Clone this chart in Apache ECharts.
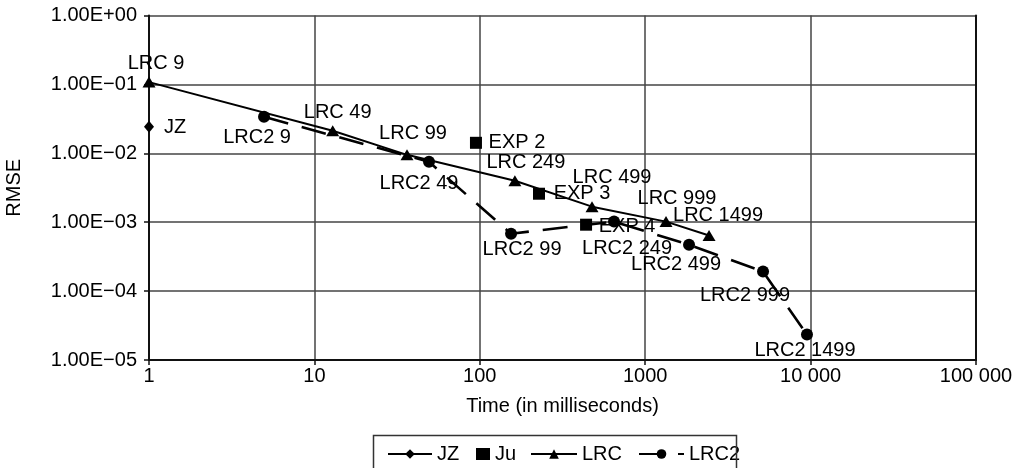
<!DOCTYPE html>
<html>
<head>
<meta charset="utf-8">
<script src="https://cdn.jsdelivr.net/npm/echarts@6/dist/echarts.min.js"></script>
<style>
  html, body { margin: 0; padding: 0; background: #fff; }
  #chart { width: 1017px; height: 468px; }
</style>
</head>
<body>
<div id="chart"></div>
<script>
// RMSE against run time (ms) for each method
const jzTime = [1];
const jzRmse = [0.0242];
const jzLabels = ['JZ'];

const juTime = [94.8, 228, 439];
const juRmse = [0.0142, 0.00259, 0.00092];
const juLabels = ['EXP 2', 'EXP 3', 'EXP 4'];

const lrcTime = [1, 12.9, 36.3, 163, 477, 1336, 2432];
const lrcRmse = [0.108, 0.0212, 0.0095, 0.0040, 0.00168, 0.00102, 0.00064];
const lrcLabels = ['LRC 9', 'LRC 49', 'LRC 99', 'LRC 249', 'LRC 499', 'LRC 999', 'LRC 1499'];

const lrc2Time = [4.96, 49.3, 154.5, 648, 1841, 5157, 9510];
const lrc2Rmse = [0.0338, 0.00753, 0.00068, 0.00102, 0.00047, 0.000192, 0.0000234];
const lrc2Labels = ['LRC2 9', 'LRC2 49', 'LRC2 99', 'LRC2 249', 'LRC2 499', 'LRC2 999', 'LRC2 1499'];

const xTickLabels = ['1', '10', '100', '1000', '10\u00a0000', '100\u00a0000'];
const yTickLabels = ['1.00E\u221205', '1.00E\u221204', '1.00E\u221203', '1.00E\u221202', '1.00E\u221201', '1.00E+00'];

// label placement (pixel offsets from each marker's centre)
const jzOffsets = [[26, 1]];
const juOffsets = [[41, 0], [43, 0], [41, 2]];
const lrcOffsets = [[7, -19], [5, -18], [6, -21], [11, -18], [20, -29], [11, -23], [9, -20]];
const lrc2Offsets = [[-7, 21], [-10, 22], [11, 16], [13, 27], [-13, 20], [-18, 24], [-2, 16]];

const FONT = 'Liberation Sans, Arial, Helvetica, sans-serif';
const FS = 20;

function points(xs, ys, names, offsets) {
  return xs.map((x, i) => ({
    value: [x, ys[i]],
    name: names[i],
    label: { offset: offsets[i] }
  }));
}

const pointLabel = {
  show: true,
  position: 'inside',
  formatter: p => p.name,
  color: '#000',
  fontFamily: FONT,
  fontSize: FS
};

const chart = echarts.init(document.getElementById('chart'), null, { renderer: 'canvas' });

const logExp = v => Math.round(Math.log10(v));

const legendBase = {
  top: 444,
  itemHeight: 12,
  itemGap: 0,
  padding: 0,
  textStyle: { color: '#000', fontFamily: FONT, fontSize: FS, padding: [0, 0, 0, 0] },
  selectedMode: false
};

chart.setOption({
  animation: false,
  backgroundColor: '#fff',
  grid: { left: 149, right: 41, top: 15.5, bottom: 108, containLabel: false, outerBoundsMode: 'none' },
  xAxis: {
    type: 'log',
    logBase: 10,
    min: 1,
    max: 100000,
    name: 'Time (in milliseconds)',
    nameLocation: 'middle',
    nameGap: 36,
    nameTextStyle: { color: '#000', fontFamily: FONT, fontSize: FS },
    axisLine: { show: true, lineStyle: { color: '#111', width: 2 } },
    axisTick: { show: true, length: 5, lineStyle: { color: '#111', width: 1.5 } },
    axisLabel: {
      color: '#000', fontFamily: FONT, fontSize: FS, margin: 6,
      formatter: v => xTickLabels[logExp(v)]
    },
    splitLine: { show: true, lineStyle: { color: '#444', width: 1.5 } },
    minorTick: { show: false }
  },
  yAxis: [{
    type: 'log',
    logBase: 10,
    min: 0.00001,
    max: 1,
    name: 'RMSE',
    nameLocation: 'middle',
    nameRotate: 90,
    nameGap: 125,
    nameTextStyle: { color: '#000', fontFamily: FONT, fontSize: FS },
    axisLine: { show: true, lineStyle: { color: '#111', width: 2 } },
    axisTick: { show: true, length: 5, lineStyle: { color: '#111', width: 1.5 } },
    axisLabel: {
      color: '#000', fontFamily: FONT, fontSize: FS, margin: 12,
      formatter: v => yTickLabels[logExp(v) + 5]
    },
    splitLine: { show: true, lineStyle: { color: '#444', width: 1.5 } }
  }, {
    type: 'log',
    logBase: 10,
    min: 0.00001,
    max: 1,
    position: 'right',
    axisLine: { show: true, onZero: false, lineStyle: { color: '#111', width: 2 } },
    axisTick: { show: false },
    axisLabel: { show: false },
    splitLine: { show: false }
  }],
  legend: [
    Object.assign({}, legendBase, { left: 387, itemWidth: 44, data: ['JZ'] }),
    Object.assign({}, legendBase, { left: 476, itemWidth: 14, data: ['Ju'] }),
    Object.assign({}, legendBase, { left: 530, itemWidth: 46, data: ['LRC'] }),
    Object.assign({}, legendBase, { left: 638, itemWidth: 45, data: ['LRC2'] })
  ],
  graphic: [{
    type: 'rect',
    shape: { x: 373.5, y: 435.5, width: 363, height: 50 },
    style: { fill: 'none', stroke: '#333', lineWidth: 1.5 },
    z: 100
  }],
  series: [
    {
      name: 'JZ',
      type: 'line',
      data: points(jzTime, jzRmse, jzLabels, jzOffsets),
      symbol: 'diamond',
      symbolSize: [10, 12],
      itemStyle: { color: '#000', opacity: 1 },
      lineStyle: { color: '#000', width: 1.2 },
      label: pointLabel,
      z: 5
    },
    {
      name: 'Ju',
      type: 'scatter',
      data: points(juTime, juRmse, juLabels, juOffsets),
      symbol: 'rect',
      symbolSize: 12,
      itemStyle: { color: '#000', opacity: 1 },
      label: pointLabel,
      z: 5
    },
    {
      name: 'LRC',
      type: 'line',
      data: points(lrcTime, lrcRmse, lrcLabels, lrcOffsets),
      symbol: 'triangle',
      symbolSize: [13, 11],
      showAllSymbol: true,
      itemStyle: { color: '#000', opacity: 1 },
      lineStyle: { color: '#000', width: 2 },
      label: pointLabel,
      z: 4
    },
    {
      name: 'LRC2',
      type: 'line',
      data: points(lrc2Time, lrc2Rmse, lrc2Labels, lrc2Offsets),
      symbol: 'circle',
      symbolSize: 12,
      showAllSymbol: true,
      itemStyle: { color: '#000', opacity: 1 },
      lineStyle: { color: '#000', width: 2.6, type: [25, 14] },
      label: pointLabel,
      z: 3
    }
  ]
});
</script>
</body>
</html>
